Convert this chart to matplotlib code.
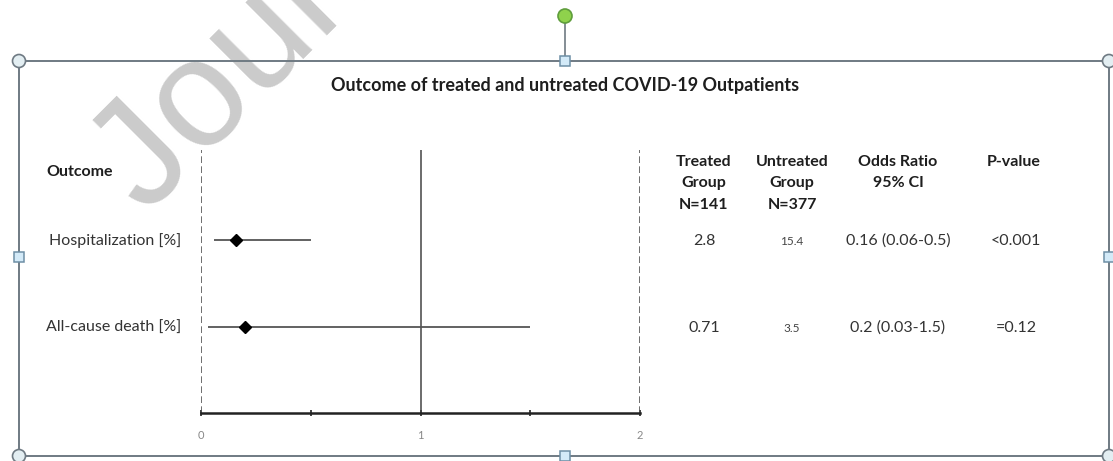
import matplotlib
matplotlib.use("Agg")
import matplotlib.pyplot as plt
from matplotlib.patches import Rectangle, Circle

plt.rcParams['font.family'] = ['Lato', 'DejaVu Sans']

# ---------------- data ----------------
title = "Outcome of treated and untreated COVID-19 Outpatients"
outcomes = ["Hospitalization [%]", "All-cause death [%]"]
odds_ratio = [0.16, 0.2]
ci_low = [0.06, 0.03]
ci_high = [0.5, 1.5]
treated = ["2.8", "0.71"]
untreated = ["15.4", "3.5"]
or_text = ["0.16 (0.06-0.5)", "0.2 (0.03-1.5)"]
p_values = ["<0.001", "=0.12"]
col_headers = ["Treated\nGroup\nN=141", "Untreated\nGroup\nN=377", "Odds Ratio\n95% CI", "P-value"]
x_ticks = [0, 0.5, 1, 1.5, 2]
x_ticklabels = ["0", "", "1", "", "2"]

W, H = 1113, 461
fig = plt.figure(figsize=(W / 100, H / 100), dpi=100)
fig.patch.set_facecolor('white')

# background overlay in pixel coordinates
bg = fig.add_axes([0, 0, 1, 1], zorder=0)
bg.set_xlim(0, W)
bg.set_ylim(H, 0)
bg.axis('off')

# watermark
bg.text(146, 216, "Journal Pre-proof", fontsize=110, color='#cbcbcb',
        rotation=45, rotation_mode='anchor', ha='left', va='baseline',
        family=['Liberation Sans', 'DejaVu Sans'], zorder=1, clip_on=True)

# selection frame
frame_col = '#6f7a83'
bg.add_patch(Rectangle((19, 61), 1090, 395, fill=False, edgecolor=frame_col, lw=1.4, zorder=3))
bg.plot([565, 565], [22, 56], color=frame_col, lw=1.2, zorder=3)
for (cx, cy) in [(19, 61), (1109, 61), (19, 456), (1109, 456)]:
    bg.add_patch(Circle((cx, cy), 6.5, facecolor='#e3eef2', edgecolor=frame_col, lw=1.2, zorder=4))
for (cx, cy) in [(565, 61), (565, 456), (19, 257), (1109, 257)]:
    bg.add_patch(Rectangle((cx - 5, cy - 5), 10, 10, facecolor='#d3eaf8', edgecolor='#6e8fa6', lw=1.1, zorder=4))
bg.add_patch(Circle((565, 16), 7, facecolor='#8fd24c', edgecolor='#5f9d3c', lw=1.2, zorder=4))

# title & text
txt_col = '#1e1e1e'
fs = 11.5
bg.text(565, 86, title, fontsize=13, weight='bold', ha='center', va='center', color=txt_col, zorder=5)
bg.text(46, 172, "Outcome", fontsize=fs, weight='bold', ha='left', va='center', color=txt_col, zorder=5)

row_y = [241, 328]
for lab, yy in zip(outcomes, row_y):
    bg.text(181, yy, lab, fontsize=fs, ha='right', va='center', color='#333333', zorder=5)

col_x = [704, 792, 898, 1014]
for hdr, cx in zip(col_headers, col_x):
    bg.text(cx, 155, hdr, fontsize=fs, weight='bold', ha='center', va='top',
            color=txt_col, linespacing=1.68, zorder=5)

for i, yy in enumerate(row_y):
    bg.text(col_x[0], yy, treated[i], fontsize=fs, ha='center', va='center', color='#333333', zorder=5)
    bg.text(col_x[1], yy, untreated[i], fontsize=8.5, ha='center', va='center', color='#444444', zorder=5)
    bg.text(col_x[2], yy, or_text[i], fontsize=fs, ha='center', va='center', color='#333333', zorder=5)
    bg.text(col_x[3] + 2, yy, p_values[i], fontsize=fs, ha='center', va='center', color='#333333', zorder=5)

# ---------------- forest plot ----------------
ax_left, ax_right = 201, 640
ax_top, ax_bot = 150, 413
ax = fig.add_axes([ax_left / W, 1 - ax_bot / H, (ax_right - ax_left) / W, (ax_bot - ax_top) / H], zorder=2)
ax.patch.set_alpha(0)
ax.set_xlim(0, 2)
ax.set_ylim(2.99, -0.03)
ypos = [1, 2]

ax.axvline(0, color='#555555', lw=1.2, ls=(0, (4, 2)))
ax.axvline(2, color='#555555', lw=1.2, ls=(0, (4, 2)))
ax.axvline(1, color='#444444', lw=1.1)

for y, o, lo, hi in zip(ypos, odds_ratio, ci_low, ci_high):
    ax.plot([lo, hi], [y, y], color='#555555', lw=1.3, solid_capstyle='butt', zorder=3)
    ax.plot([o], [y], marker='D', color='black', markersize=6.5, zorder=4)

for s in ['top', 'left', 'right']:
    ax.spines[s].set_visible(False)
ax.spines['bottom'].set_linewidth(1.8)
ax.spines['bottom'].set_color('#222222')
ax.set_yticks([])
ax.set_xticks(x_ticks)
ax.set_xticklabels(x_ticklabels)
ax.tick_params(axis='x', direction='inout', length=5, width=1.2, color='#222222',
               labelsize=8, labelcolor='#888888', pad=10)

fig.savefig("out.png", dpi=100, facecolor='white')
